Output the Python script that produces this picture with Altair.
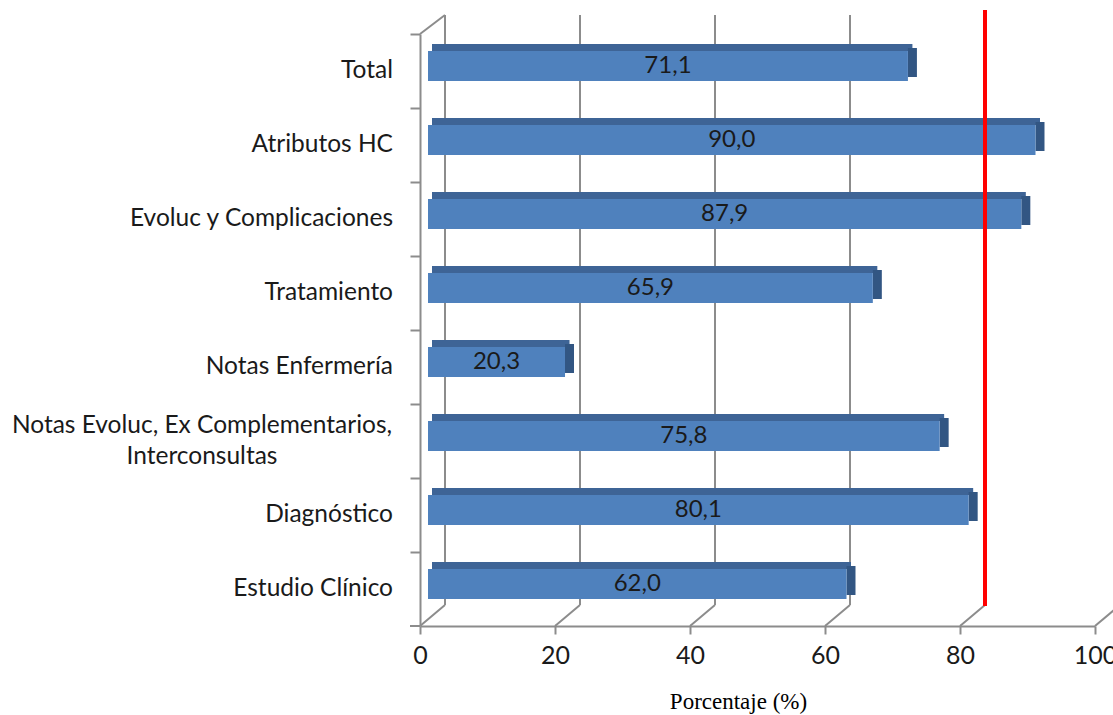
import altair as alt
import pandas as pd

categories = [
    "Total",
    "Atributos HC",
    "Evoluc y Complicaciones",
    "Tratamiento",
    "Notas Enfermería",
    "Notas Evoluc, Ex Complementarios,\nInterconsultas",
    "Diagnóstico",
    "Estudio Clínico",
]
values = [71.1, 90.0, 87.9, 65.9, 20.3, 75.8, 80.1, 62.0]
tick_values = [0, 20, 40, 60, 80, 100]
standard = [80]

df = pd.DataFrame({"cat": categories, "v": values})
df["lbl"] = [f"{v:.1f}".replace(".", ",") for v in values]
df["multi"] = ["\n" in c for c in categories]
ticks_df = pd.DataFrame({"t": tick_values})
std_df = pd.DataFrame({"s": standard})

FRONT = "#4F81BD"
TOP = "#3E6496"
SIDE = "#325683"
GRID = "#8C8C8C"
FONT = "Lato"
TXT = "#1A1A1A"

xs = alt.Scale(domain=[0, 100], nice=False, zero=True)
ys = alt.Scale(domain=categories, paddingInner=0, paddingOuter=0)

base = alt.Chart(df)

# back-wall gridlines (3D offset)
grid = alt.Chart(ticks_df).mark_rule(color=GRID, strokeWidth=2, xOffset=25).encode(
    x=alt.X("t:Q", scale=xs), y=alt.value(-19), y2=alt.value(571)
)
# floor diagonals
floor = alt.Chart(ticks_df).mark_rule(color=GRID, strokeWidth=2, x2Offset=25).encode(
    x=alt.X("t:Q", scale=xs), x2="t:Q", y=alt.value(592), y2=alt.value(571)
)
# top-left wall diagonal and bottom-left tick
wall = alt.Chart(ticks_df.head(1)).mark_rule(color=GRID, strokeWidth=2).encode(
    x=alt.value(0), x2=alt.value(25), y=alt.value(0), y2=alt.value(-19)
)
btick = alt.Chart(ticks_df.head(1)).mark_rule(color=GRID, strokeWidth=2).encode(
    x=alt.value(-10), x2=alt.value(0), y=alt.value(592)
)

top_face = base.mark_bar(color=TOP, size=7, yOffset=-23.5, xOffset=12, x2Offset=12.5).encode(
    y=alt.Y("cat:N", scale=ys, sort=categories,
            axis=alt.Axis(labels=False, title=None, ticks=True, tickSize=10, tickColor=GRID,
                          tickWidth=2, domainColor=GRID, domainWidth=2, bandPosition=0,
                          grid=False)),
    x=alt.X("zero:Q", scale=xs, title="Porcentaje (%)",
            axis=alt.Axis(values=tick_values, grid=False, tickSize=8, tickColor=GRID, tickWidth=2,
                          domainColor=GRID, domainWidth=2, labelFont=FONT, labelFontSize=25,
                          labelColor=TXT, labelPadding=9, labelFlush=False,
                          titleFont="Liberation Serif", titleFontSize=23,
                          titleFontWeight="normal", titleColor="#000000",
                          titleX=318, titleY=82, titleBaseline="alphabetic",
                          titleAlign="center")),
    x2="v:Q",
).transform_calculate(zero="0")

side_face = base.mark_bar(color=SIDE, size=29, yOffset=-8.5, xOffset=8, x2Offset=17).encode(
    y=alt.Y("cat:N", scale=ys, sort=categories),
    x=alt.X("v:Q", scale=xs),
    x2="v:Q",
)

front = base.mark_bar(color=FRONT, size=30, yOffset=-5, xOffset=8, x2Offset=8).encode(
    y=alt.Y("cat:N", scale=ys, sort=categories),
    x=alt.X("zero:Q", scale=xs),
    x2="v:Q",
).transform_calculate(zero="0")

vals = base.mark_text(font=FONT, fontSize=24, color=TXT, yOffset=-5, xOffset=8,
                      baseline="middle", align="center").encode(
    y=alt.Y("cat:N", scale=ys, sort=categories),
    x=alt.X("mid:Q", scale=xs),
    text="lbl:N",
).transform_calculate(mid="datum.v / 2")

red = alt.Chart(std_df).mark_rule(color="#FF0000", strokeWidth=4, xOffset=25).encode(
    x=alt.X("s:Q", scale=xs), y=alt.value(-24), y2=alt.value(572)
)

lab_single = base.mark_text(font=FONT, fontSize=24.5, color=TXT, align="right",
                            baseline="middle").encode(
    y=alt.Y("cat:N", scale=ys, sort=categories),
    x=alt.value(-27),
    text="cat:N",
).transform_filter("!datum.multi")

lab_multi = base.mark_text(font=FONT, fontSize=24.5, color=TXT, align="center",
                           baseline="middle", lineBreak="\n", lineHeight=31,
                           yOffset=-15).encode(
    y=alt.Y("cat:N", scale=ys, sort=categories),
    x=alt.value(-218),
    text="cat:N",
).transform_filter("datum.multi")

chart = alt.layer(grid, floor, wall, btick, top_face, side_face, front, vals, red,
                  lab_single, lab_multi).properties(
    width=675, height=592,
    background="white",
    autosize=alt.AutoSizeParams(type="none"),
    padding={"left": 420, "top": 34, "right": 18, "bottom": 89},
).configure_view(strokeWidth=0, stroke=None)

chart.save("out.html", embed_options={"renderer": "svg", "actions": False})
